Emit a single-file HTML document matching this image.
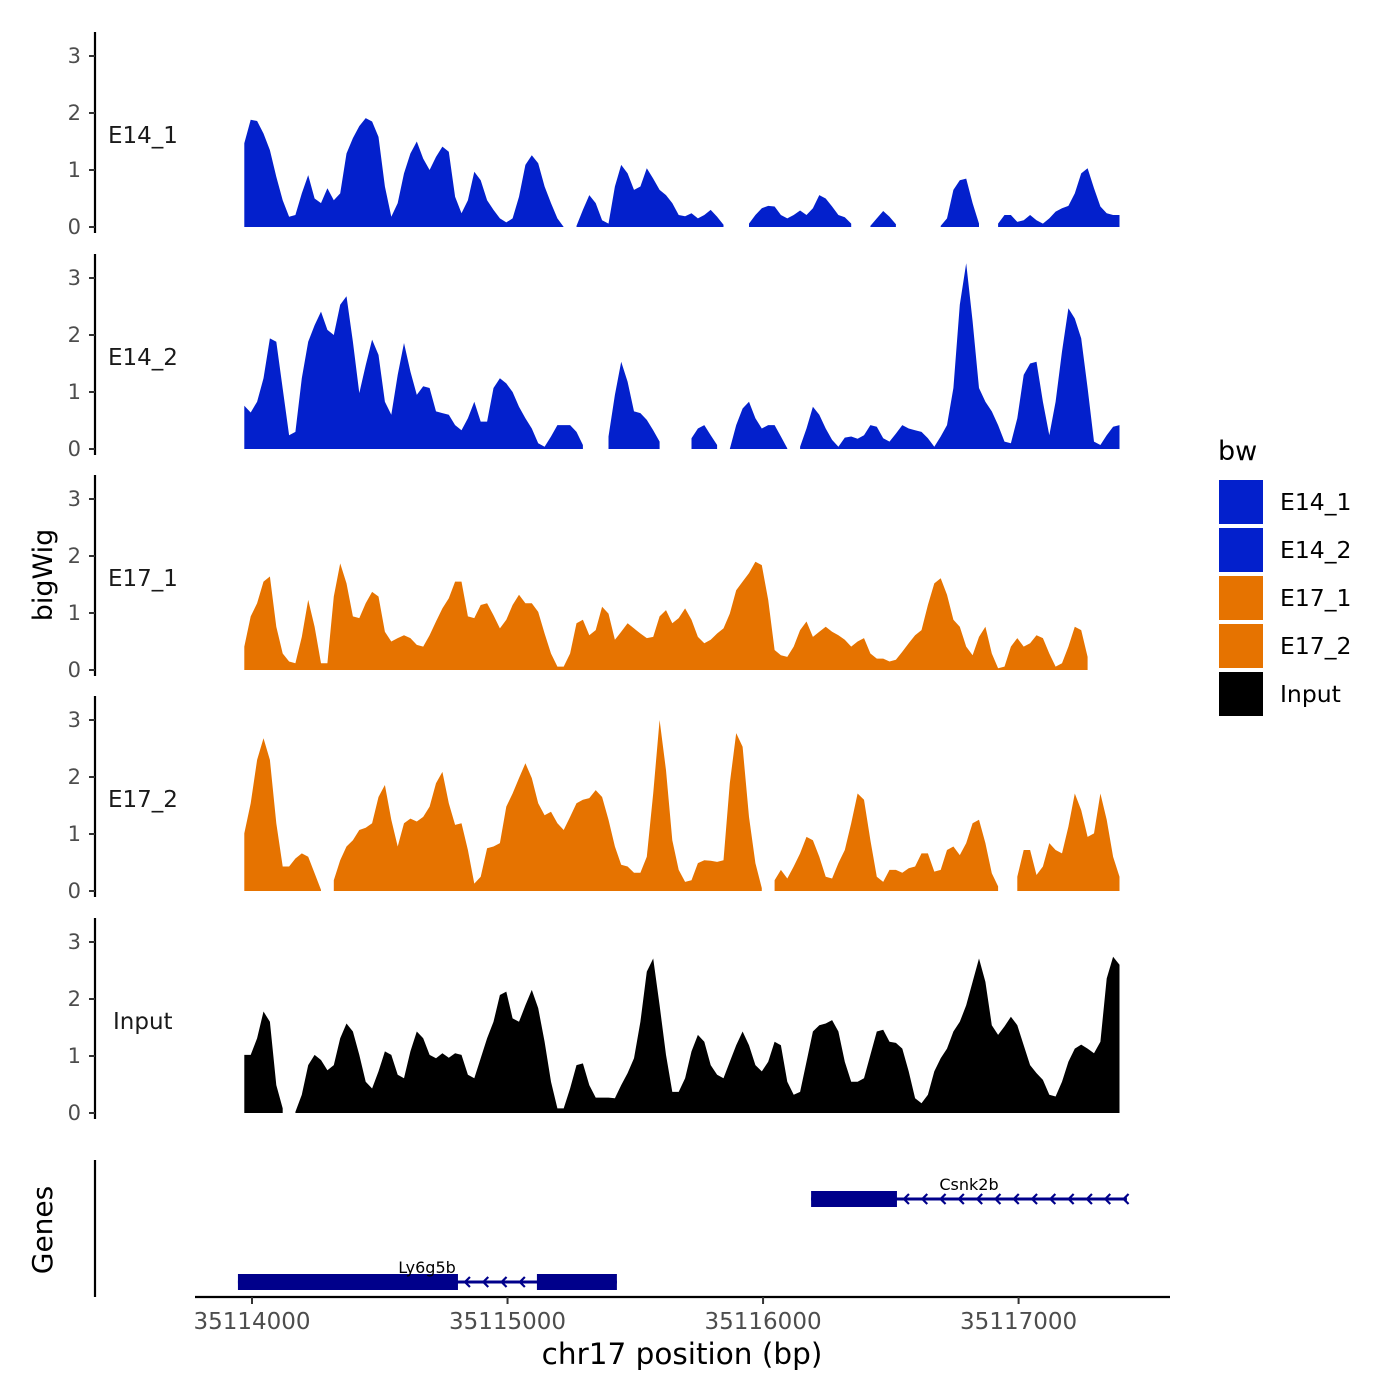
<!DOCTYPE html>
<html><head><meta charset="utf-8"><style>
html,body{margin:0;padding:0;background:#fff;}
svg{display:block;font-family:"DejaVu Sans","Liberation Sans",sans-serif;}
</style></head><body>
<svg id="chart" width="1400" height="1400" viewBox="0 0 1400 1400" xmlns="http://www.w3.org/2000/svg">
<rect width="1400" height="1400" fill="#fff"/>
<g id="tracks"></g>
<g id="genes"></g>
<g id="axes"></g>
<text x="52" y="575" transform="rotate(-90 52 575)" text-anchor="middle" font-size="27" fill="#000">bigWig</text>
<text x="52" y="1230" transform="rotate(-90 52 1230)" text-anchor="middle" font-size="28" fill="#000">Genes</text>
<text x="682" y="1364" text-anchor="middle" font-size="29.5" fill="#000">chr17 position (bp)</text>
<g id="legend">
<text x="1218" y="460" font-size="27" fill="#000">bw</text>
</g>
</svg>
<script>
const binStart = 35113970;
const binSize = 25;
const trackNames = ["E14_1","E14_2","E17_1","E17_2","Input"];
const trackColors = ["#0320cc","#0320cc","#e67300","#e67300","#000000"];
const yTicks = [0,1,2,3];
const xTicks = [35114000,35115000,35116000,35117000];
const xTickLabels = ["35114000","35115000","35116000","35117000"];
const n = null;
const e14_1 = [1.47,1.88,1.86,1.64,1.35,0.88,0.47,0.18,0.21,0.59,0.91,0.5,0.42,0.68,0.47,0.59,1.29,1.56,1.77,1.91,1.85,1.58,0.71,0.18,0.42,0.94,1.29,1.5,1.2,1.0,1.23,1.41,1.32,0.53,0.24,0.47,0.97,0.82,0.47,0.3,0.15,0.08,0.15,0.53,1.09,1.26,1.12,0.71,0.42,0.15,0,n,0.02,0.3,0.56,0.42,0.12,0.06,0.71,1.09,0.94,0.65,0.71,1.03,0.85,0.65,0.56,0.42,0.21,0.19,0.24,0.15,0.21,0.3,0.18,0.04,n,n,n,0.06,0.21,0.33,0.37,0.36,0.21,0.15,0.21,0.29,0.21,0.33,0.56,0.5,0.36,0.21,0.17,0.06,n,n,0.02,0.15,0.28,0.18,0.05,n,n,n,n,n,n,0.02,0.15,0.65,0.82,0.85,0.42,0.06,n,n,0.06,0.21,0.21,0.09,0.12,0.21,0.12,0.06,0.15,0.27,0.33,0.37,0.59,0.94,1.03,0.68,0.36,0.24,0.21,0.21];
const e14_2 = [0.76,0.64,0.83,1.24,1.94,1.88,1.06,0.24,0.3,1.24,1.88,2.17,2.41,2.09,2.0,2.53,2.68,1.88,0.98,1.47,1.92,1.65,0.83,0.6,1.3,1.86,1.36,0.95,1.1,1.07,0.66,0.63,0.6,0.42,0.33,0.54,0.83,0.48,0.48,1.07,1.24,1.15,1.0,0.74,0.54,0.36,0.1,0.04,0.22,0.42,0.42,0.42,0.3,0.07,n,n,n,0.22,0.95,1.53,1.18,0.66,0.63,0.51,0.33,0.13,n,n,n,n,0.19,0.36,0.42,0.24,0.07,n,0,0.42,0.71,0.83,0.54,0.36,0.42,0.42,0.22,0.01,n,0.04,0.36,0.74,0.6,0.36,0.16,0.04,0.2,0.22,0.18,0.24,0.42,0.39,0.19,0.13,0.27,0.42,0.36,0.33,0.3,0.19,0.04,0.22,0.42,1.07,2.53,3.26,2.24,1.07,0.83,0.66,0.42,0.13,0.1,0.54,1.3,1.5,1.53,0.83,0.24,0.83,1.71,2.47,2.29,1.94,1.07,0.13,0.07,0.24,0.39,0.42];
const e17_1 = [0.41,0.94,1.17,1.55,1.64,0.76,0.29,0.15,0.12,0.58,1.23,0.76,0.12,0.12,1.29,1.87,1.52,0.94,0.91,1.17,1.37,1.29,0.67,0.5,0.56,0.61,0.56,0.44,0.41,0.61,0.85,1.08,1.26,1.55,1.55,0.94,0.91,1.14,1.17,0.96,0.73,0.88,1.14,1.32,1.17,1.17,1.02,0.64,0.29,0.06,0.06,0.29,0.82,0.88,0.61,0.7,1.11,0.99,0.53,0.67,0.82,0.73,0.64,0.56,0.58,0.94,1.05,0.82,0.91,1.08,0.88,0.58,0.47,0.53,0.64,0.73,0.99,1.4,1.55,1.7,1.9,1.84,1.23,0.35,0.26,0.23,0.41,0.7,0.85,0.58,0.67,0.76,0.67,0.61,0.53,0.41,0.5,0.56,0.29,0.2,0.2,0.15,0.18,0.32,0.47,0.61,0.7,1.14,1.52,1.61,1.32,0.88,0.76,0.41,0.26,0.58,0.76,0.29,0.03,0.06,0.41,0.56,0.41,0.47,0.61,0.56,0.29,0.06,0.12,0.41,0.76,0.7,0.23,n,n,n,n,0.02];
const e17_2 = [1.01,1.54,2.3,2.68,2.3,1.19,0.43,0.43,0.57,0.66,0.6,0.31,0.02,n,0.19,0.54,0.78,0.89,1.07,1.11,1.19,1.65,1.86,1.25,0.78,1.19,1.27,1.22,1.3,1.48,1.89,2.09,1.54,1.16,1.19,0.72,0.13,0.25,0.75,0.78,0.84,1.48,1.71,1.98,2.24,1.98,1.54,1.33,1.39,1.19,1.07,1.3,1.54,1.6,1.63,1.77,1.65,1.25,0.78,0.46,0.43,0.32,0.32,0.6,1.71,3.0,2.12,0.89,0.37,0.16,0.19,0.49,0.54,0.53,0.51,0.54,1.89,2.77,2.53,1.3,0.49,0.05,n,0.19,0.37,0.22,0.43,0.66,0.95,0.89,0.6,0.25,0.22,0.49,0.72,1.19,1.71,1.6,0.89,0.25,0.16,0.37,0.37,0.32,0.4,0.43,0.66,0.66,0.34,0.37,0.72,0.78,0.63,0.84,1.19,1.25,0.84,0.31,0.08,n,n,0.25,0.72,0.72,0.28,0.43,0.84,0.72,0.66,1.13,1.71,1.42,0.95,1.01,1.71,1.25,0.6,0.25];
const input = [1.02,1.02,1.31,1.78,1.6,0.49,0.08,n,0.02,0.32,0.84,1.02,0.93,0.75,0.84,1.31,1.57,1.43,1.02,0.55,0.43,0.73,1.08,1.02,0.67,0.61,1.08,1.43,1.31,1.02,0.96,1.05,0.97,1.05,1.02,0.67,0.61,0.96,1.31,1.6,2.07,2.13,1.66,1.6,1.89,2.16,1.84,1.25,0.55,0.08,0.08,0.43,0.84,0.87,0.49,0.27,0.27,0.27,0.26,0.49,0.7,0.96,1.6,2.48,2.71,1.89,1.02,0.37,0.37,0.61,1.08,1.37,1.25,0.84,0.67,0.61,0.9,1.19,1.43,1.19,0.84,0.73,0.9,1.25,1.19,0.55,0.32,0.37,0.9,1.43,1.54,1.57,1.63,1.43,0.9,0.55,0.55,0.61,1.02,1.43,1.46,1.25,1.23,1.13,0.73,0.26,0.17,0.32,0.73,0.96,1.13,1.43,1.6,1.89,2.3,2.71,2.3,1.54,1.37,1.52,1.69,1.54,1.19,0.84,0.7,0.58,0.32,0.29,0.55,0.9,1.13,1.2,1.13,1.05,1.25,2.36,2.74,2.6];
const trackValues = [e14_1,e14_2,e17_1,e17_2,input];
const geneNames = ["Csnk2b","Ly6g5b"];
const geneStarts = [35116188,35113945];
const geneEnds = [35117424,35115428];
const geneExonStarts = [[35116188],[35113945,35115115]];
const geneExonEnds = [[35116524],[35114806,35115428]];

const NS="http://www.w3.org/2000/svg";
function mk(tag,attrs,parent){const e=document.createElementNS(NS,tag);for(const k in attrs)e.setAttribute(k,attrs[k]);parent.appendChild(e);return e;}
const xScale = bp => 252 + (bp-35114000)*0.25553;
const panelBase = [227,449,670,891,1113];
const unitPx = 57;
const yScale = (p,v) => panelBase[p] - v*unitPx;

const tracksG=document.getElementById('tracks');
const axesG=document.getElementById('axes');
trackValues.forEach((vals,p)=>{
  const g=mk('g',{},tracksG);
  
  
  let run=[];
  const flush=()=>{
    if(run.length){
      const pts=[[xScale(binStart+run[0]*binSize),panelBase[p]]];
      run.forEach(i=>pts.push([xScale(binStart+i*binSize),yScale(p,vals[i])]));
      pts.push([xScale(binStart+run[run.length-1]*binSize),panelBase[p]]);
      const poly=mk('polygon',{points:pts.map(q=>q[0].toFixed(1)+','+q[1].toFixed(1)).join(' '),fill:trackColors[p]},g);
      
      
    }
    run=[];
  };
  vals.forEach((v,i)=>{ if(v===null) flush(); else run.push(i); });
  flush();
  const ax=mk('g',{},axesG);
  
  
  const base=panelBase[p];
  mk('line',{x1:95,x2:95,y1:base-195,y2:base+6,stroke:'#000','stroke-width':2.2},ax);
  yTicks.forEach(t=>{
    const y=yScale(p,t);
    mk('line',{x1:89,x2:95,y1:y,y2:y,stroke:'#333','stroke-width':2},ax);
    const tx=mk('text',{x:81,y:y+7,'text-anchor':'end','font-size':21,fill:'#4d4d4d'},ax);
    tx.textContent=t;
    
    
  });
  const lab=mk('text',{x:trackNames[p]==='Input'?113:108,y:base-84,'font-size':23,fill:'#1a1a1a'},ax);
  lab.textContent=trackNames[p];
  
  
});

mk('line',{x1:95,x2:95,y1:1160,y2:1297,stroke:'#000','stroke-width':2.2},axesG);
mk('line',{x1:195,x2:1170,y1:1297,y2:1297,stroke:'#000','stroke-width':2.2},axesG);
xTicks.forEach((t,i)=>{
  const x=xScale(t);
  mk('line',{x1:x,x2:x,y1:1297,y2:1304,stroke:'#333','stroke-width':2},axesG);
  const tx=mk('text',{x:x,y:1329,'text-anchor':'middle','font-size':23,fill:'#4d4d4d'},axesG);
  tx.textContent=xTickLabels[i];
  
  
});

const genesG=document.getElementById('genes');
const geneY=[1199,1282];
geneNames.forEach((name,gi)=>{
  const g=mk('g',{},genesG);
  
  
  const y=geneY[gi];
  const x0=xScale(geneStarts[gi]), x1=xScale(geneEnds[gi]);
  mk('line',{x1:x0,x2:x1,y1:y,y2:y,stroke:'#00008b','stroke-width':3},g);
  geneExonStarts[gi].forEach((s,k)=>{
    const a=xScale(s), b=xScale(geneExonEnds[gi][k]);
    mk('rect',{x:a,y:y-8,width:b-a,height:16,fill:'#00008b'},g);
  });
  const lastExonEnd=xScale(geneExonEnds[gi][0]);
  for(let x=lastExonEnd+8;x<x1;x+=18.3){
    let inExon=false;
    geneExonStarts[gi].forEach((s,k)=>{ if(x>xScale(s)-4 && x<xScale(geneExonEnds[gi][k])+4) inExon=true; });
    if(inExon) continue;
    mk('path',{d:`M${x+4},${y-5} L${x-1},${y} L${x+4},${y+5}`,stroke:'#00008b','stroke-width':2.2,fill:'none'},g);
  }
  const lt=mk('text',{x:gi===0?969:427,y:y-9,'text-anchor':'middle','font-size':16,fill:'#000'},g);
  lt.textContent=name;
  
  
});

const legendG=document.getElementById('legend');
const legNames=["E14_1","E14_2","E17_1","E17_2","Input"];
legNames.forEach((nm,i)=>{
  const y=480+i*48;
  const r=mk('rect',{x:1219,y:y,width:44,height:44,fill:trackColors[i]},legendG);
  
  
  const t=mk('text',{x:1280,y:y+30,'font-size':23.5,fill:'#000'},legendG);
  t.textContent=nm;
  
  
});
</script>
</body></html>
